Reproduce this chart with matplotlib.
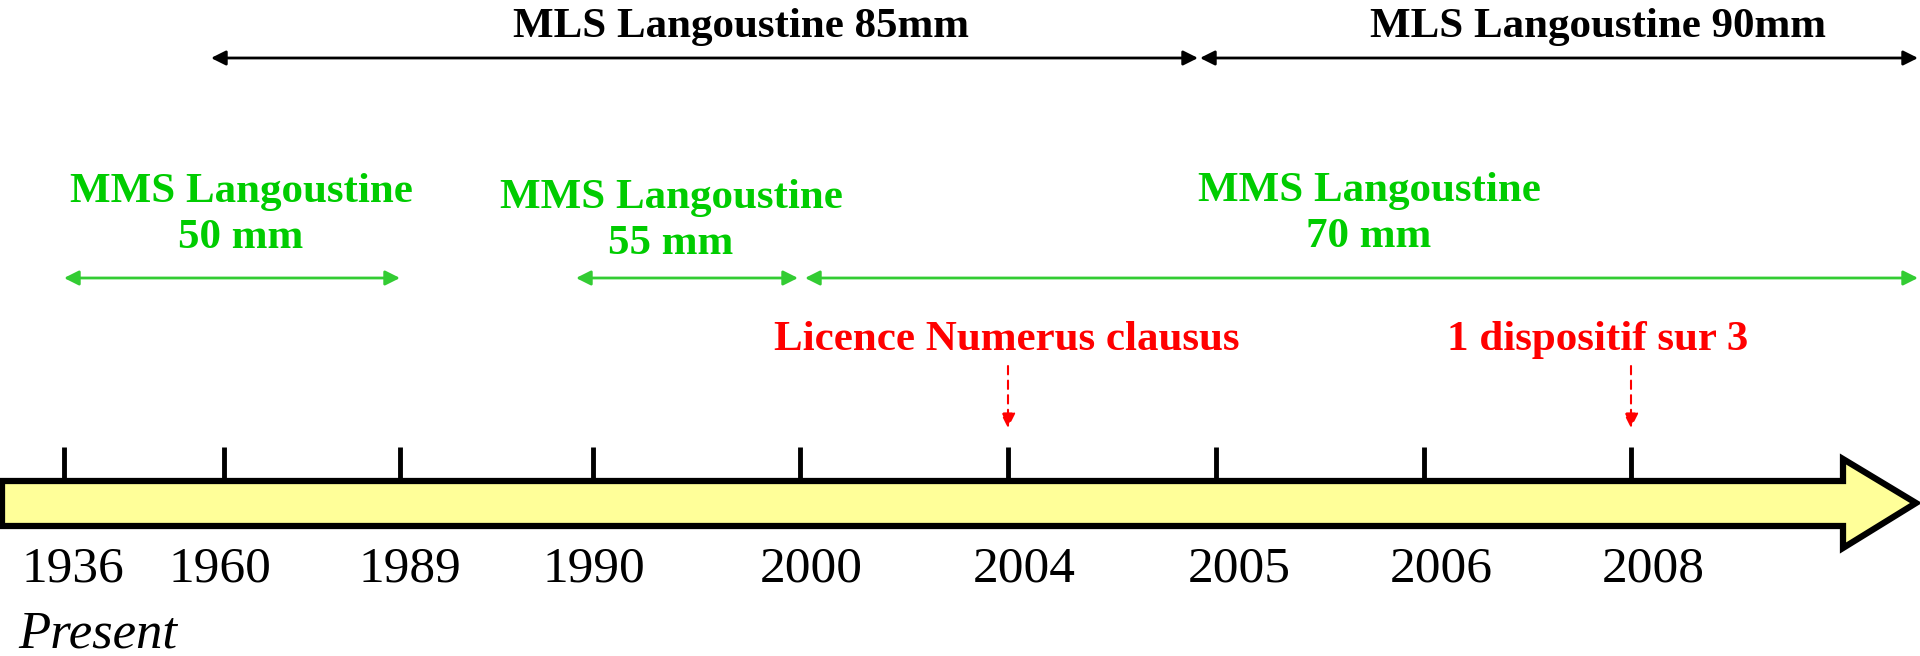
import matplotlib.pyplot as plt
from matplotlib.patches import Polygon

# Frise chronologique - tailles de langoustine
years = ["1936", "1960", "1989", "1990", "2000", "2004", "2005", "2006", "2008"]
tick_x = [64, 224, 400, 593, 800, 1008, 1216, 1424, 1631]
label_x = [73, 220, 410, 594, 811, 1024, 1239, 1441, 1653]

mls_labels = ["MLS Langoustine 85mm", "MLS Langoustine 90mm"]
mls_spans = [(211, 1198), (1200, 1918)]
mls_text_x = [741, 1598]

mms_labels = ["MMS Langoustine\n50 mm", "MMS Langoustine\n55 mm", "MMS Langoustine\n70 mm"]
mms_spans = [(64, 400), (576, 798), (805, 1918)]
mms_text_x = [241, 671, 1369]
mms_text_y = [215, 221, 214]

events = ["Licence Numerus clausus", "1 dispositif sur 3"]
event_tick = [5, 8]   # index dans years
event_text_x = [1007, 1598]

plt.rcParams['font.family'] = ['Liberation Serif', 'DejaVu Serif']

fig = plt.figure(figsize=(19.2, 6.56), dpi=100)
ax = fig.add_axes([0, 0, 1, 1])
ax.set_xlim(0, 1920)
ax.set_ylim(656, 0)
ax.axis('off')

# fleche jaune
fleche = Polygon([(2, 481), (1843, 481), (1843, 459), (1916, 503),
                  (1843, 548), (1843, 526), (2, 526)],
                 closed=True, facecolor='#FFFF99', edgecolor='black', lw=4.5,
                 joinstyle='miter')
ax.add_patch(fleche)

for x, xl, yr in zip(tick_x, label_x, years):
    ax.plot([x, x], [447, 478], color='black', lw=3.5, solid_capstyle='butt')
    ax.text(xl, 569, yr, ha='center', va='center', fontsize=37)

ax.text(18, 634, "Present", ha='left', va='center', fontsize=38, style='italic')

# MLS
for (x0, x1), lab, tx in zip(mls_spans, mls_labels, mls_text_x):
    ax.annotate("", xy=(x1, 58), xytext=(x0, 58),
                arrowprops=dict(arrowstyle='<|-|>', color='black', lw=2,
                                mutation_scale=22, shrinkA=0, shrinkB=0))
    ax.text(tx, 27, lab, ha='center', va='center', fontsize=31,
            fontweight='bold', color='black')

# MMS
for (x0, x1), lab, tx, ty in zip(mms_spans, mms_labels, mms_text_x, mms_text_y):
    ax.annotate("", xy=(x1, 278), xytext=(x0, 278),
                arrowprops=dict(arrowstyle='<|-|>', color='#33CC33', lw=2,
                                mutation_scale=22, shrinkA=0, shrinkB=0))
    ax.text(tx, ty, lab, ha='center', va='center', fontsize=31,
            fontweight='bold', color='#00CC00', linespacing=1.3)

# evenements
for lab, i, tx in zip(events, event_tick, event_text_x):
    x = tick_x[i]
    ax.annotate("", xy=(x, 428), xytext=(x, 366),
                arrowprops=dict(arrowstyle='-|>', color='red', lw=1.5,
                                linestyle=(0, (4, 3)), mutation_scale=22,
                                shrinkA=0, shrinkB=0))
    ax.text(tx, 340, lab, ha='center', va='center', fontsize=31,
            fontweight='bold', color='red')

fig.savefig('out.png', dpi=100)
